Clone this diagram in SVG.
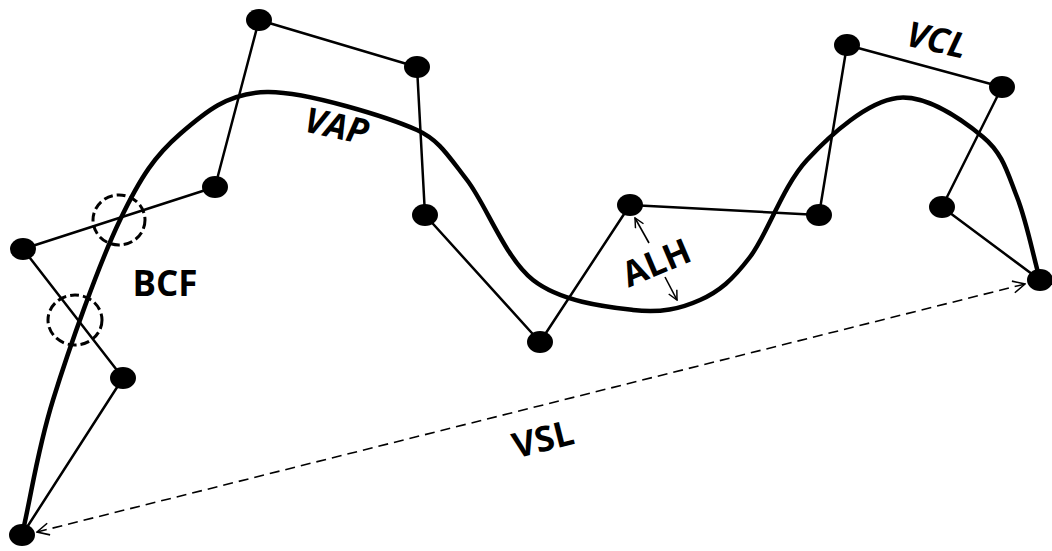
<svg xmlns="http://www.w3.org/2000/svg" width="1052" height="551" viewBox="0 0 1052 551">
<defs>
<style>
.node{fill:#000;}
.seg{fill:none;stroke:#000;stroke-width:2.5;stroke-linecap:round;stroke-linejoin:round;}
.vap{fill:none;stroke:#000;stroke-width:4.5;stroke-linecap:round;}
.circ{fill:none;stroke:#000;stroke-width:3;stroke-dasharray:9 4;}
.dash{fill:none;stroke:#000;stroke-width:1.6;stroke-dasharray:10 6;}
.arr{fill:none;stroke:#000;stroke-width:1.6;}
.lbl{font-family:"Open Sans","DejaVu Sans",sans-serif;font-weight:bold;font-size:35px;fill:#000;text-anchor:middle;}
.it{font-style:italic;}
</style>
<marker id="ah" viewBox="0 0 14 14" refX="13" refY="7" markerWidth="14" markerHeight="14" markerUnits="userSpaceOnUse" orient="auto-start-reverse">
<path d="M1,1 L13,7 L1,13" fill="none" stroke="#000" stroke-width="1.6"/>
</marker>
<marker id="ah2" viewBox="0 0 12 12" refX="11" refY="6" markerWidth="11" markerHeight="11" markerUnits="userSpaceOnUse" orient="auto-start-reverse">
<path d="M1,1 L11,6 L1,11" fill="none" stroke="#000" stroke-width="1.6"/>
</marker>
</defs>
<rect width="1052" height="551" fill="#fff"/>
<g id="connectors">
<polyline class="seg" points="22,535 123,378 23,249 215,187 259,20 417,67 425,215 540,342 630,205 819,215 847,45 1002,87 942,207 1040,280"/>
<path id="vap-curve" class="vap" d="M22,535 C32.3,490.7 36.7,452.7 53,400 C69.3,347.3 98.8,264.3 120,220 C141.2,175.7 155.5,155.3 180,134 C204.5,112.7 227.5,92.7 267,92 C306.5,91.3 390,118 417,130 C439,140 447.7,155 467,180 C486.3,205 505.3,258.3 533,280 C560.7,301.7 605.2,306.7 633,310 C660.8,313.3 680.5,308.8 700,300 C719.5,291.2 732.2,280.3 750,257 C767.8,233.7 782.5,186.5 807,160 C831.5,133.5 867.7,101.8 897,98 C926.3,94.2 963,120.5 983,137 C1003,153.5 1007.5,173.2 1017,197 C1026.5,220.8 1032.3,252.3 1040,280"/>
<line id="vsl" class="dash" x1="37" y1="532" x2="1025" y2="284" marker-start="url(#ah)" marker-end="url(#ah)"/>
<line class="arr" x1="635" y1="218" x2="649" y2="243" marker-start="url(#ah2)"/>
<line class="arr" x1="665" y1="277" x2="677" y2="300" marker-end="url(#ah2)"/>
<ellipse class="circ" cx="119" cy="220" rx="26" ry="25"/>
<ellipse class="circ" cx="75" cy="320" rx="27" ry="25"/>
</g>
<g id="n1"><ellipse class="node" cx="22" cy="535" rx="13" ry="11"/></g>
<g id="n2"><ellipse class="node" cx="123" cy="378" rx="13" ry="11"/></g>
<g id="n3"><ellipse class="node" cx="23" cy="249" rx="13" ry="11"/></g>
<g id="n4"><ellipse class="node" cx="215" cy="187" rx="13" ry="11"/></g>
<g id="n5"><ellipse class="node" cx="259" cy="20" rx="13" ry="11"/></g>
<g id="n6"><ellipse class="node" cx="417" cy="67" rx="13" ry="11"/></g>
<g id="n7"><ellipse class="node" cx="425" cy="215" rx="13" ry="11"/></g>
<g id="n8"><ellipse class="node" cx="540" cy="342" rx="13" ry="11"/></g>
<g id="n9"><ellipse class="node" cx="630" cy="205" rx="13" ry="11"/></g>
<g id="n10"><ellipse class="node" cx="819" cy="215" rx="13" ry="11"/></g>
<g id="n11"><ellipse class="node" cx="847" cy="45" rx="13" ry="11"/></g>
<g id="n12"><ellipse class="node" cx="1002" cy="87" rx="13" ry="11"/></g>
<g id="n13"><ellipse class="node" cx="942" cy="207" rx="13" ry="11"/></g>
<g id="n14"><ellipse class="node" cx="1040" cy="280" rx="13" ry="11"/></g>
<g id="labels">
<text class="lbl it" transform="translate(334,138) rotate(12)">VAP</text>
<text class="lbl" x="165" y="296">BCF</text>
<text class="lbl it" transform="translate(934,52) rotate(13)">VCL</text>
<text class="lbl" font-size="29" transform="translate(661,274) rotate(-23)">ALH</text>
<text class="lbl" transform="translate(546,451) rotate(-14)">VSL</text>
</g>
</svg>
